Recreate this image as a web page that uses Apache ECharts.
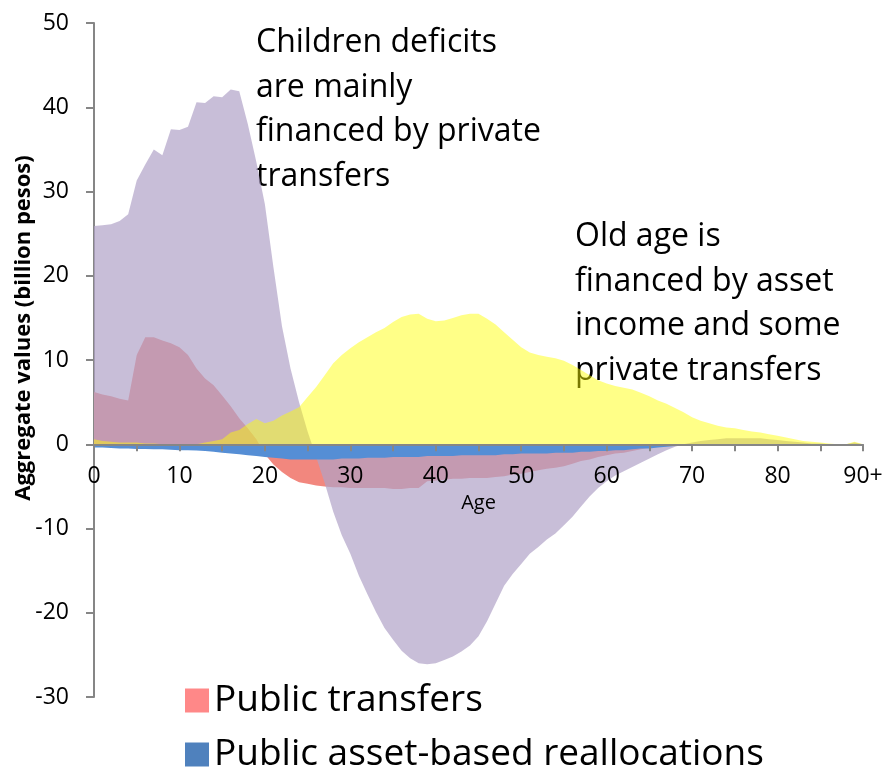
<!DOCTYPE html>
<html>
<head>
<meta charset="utf-8">
<script src="https://cdn.jsdelivr.net/npm/echarts@6/dist/echarts.min.js"></script>
<style>
  body { margin: 0; background: #fff; }
  #chart { width: 887px; height: 767px; }
</style>
</head>
<body>
<div id="chart"></div>
<script>
// age groups 0 .. 90+
var ages = ['0','1','2','3','4','5','6','7','8','9',
  '10','11','12','13','14','15','16','17','18','19',
  '20','21','22','23','24','25','26','27','28','29',
  '30','31','32','33','34','35','36','37','38','39',
  '40','41','42','43','44','45','46','47','48','49',
  '50','51','52','53','54','55','56','57','58','59',
  '60','61','62','63','64','65','66','67','68','69',
  '70','71','72','73','74','75','76','77','78','79',
  '80','81','82','83','84','85','86','87','88','89','90+'];

// billion pesos
var publicTransfers = [6.2, 5.9, 5.7, 5.4, 5.2, 10.6, 12.7, 12.7, 12.3, 12.0,
  11.5, 10.6, 9.0, 7.8, 7.0, 5.8, 4.5, 3.1, 1.9, 0.6,
  -1.2, -2.4, -3.3, -4.0, -4.5, -4.7, -4.9, -5.0, -5.1, -5.1,
  -5.2, -5.2, -5.2, -5.2, -5.2, -5.3, -5.3, -5.2, -5.2, -4.4,
  -4.3, -4.2, -4.1, -4.1, -4.0, -4.0, -4.0, -3.9, -3.8, -3.6,
  -3.5, -3.3, -3.1, -2.9, -2.8, -2.6, -2.3, -2.0, -1.8, -1.5,
  -1.3, -1.1, -1.0, -0.8, -0.6, -0.4, -0.2, 0, 0, 0,
  0, 0, 0, 0, 0, 0, 0, 0, 0, 0,
  0, 0, 0, 0, 0, 0, 0, 0, 0, 0, 0];

var privateTransfers = [25.9, 26.0, 26.1, 26.5, 27.3, 31.3, 33.2, 35.0, 34.3, 37.4,
  37.3, 37.7, 40.6, 40.5, 41.3, 41.2, 42.1, 41.9, 38.0, 33.5,
  28.5, 21.0, 14.0, 9.0, 5.0, 1.5, -1.5, -4.6, -8.0, -10.8,
  -13.0, -15.6, -17.8, -19.9, -21.8, -23.2, -24.5, -25.4, -26.0, -26.1,
  -26.0, -25.6, -25.2, -24.6, -23.9, -22.8, -21.0, -18.9, -16.8, -15.4,
  -14.2, -13.0, -12.2, -11.3, -10.6, -9.6, -8.6, -7.4, -6.2, -5.2,
  -4.4, -3.7, -3.2, -2.7, -2.2, -1.7, -1.2, -0.7, -0.3, 0,
  0.2, 0.4, 0.5, 0.6, 0.7, 0.7, 0.7, 0.7, 0.7, 0.6,
  0.5, 0.4, 0.3, 0.2, 0.1, 0.1, 0, 0, 0, 0.2, 0];

var assetIncome = [0.6, 0.4, 0.3, 0.2, 0.2, 0.2, 0.1, 0.1, 0.0, -0.1,
  0.0, 0.0, 0.0, 0.2, 0.4, 0.6, 1.4, 1.7, 2.4, 3.0,
  2.5, 2.8, 3.4, 3.9, 4.4, 5.6, 6.8, 8.2, 9.6, 10.6,
  11.4, 12.1, 12.7, 13.3, 13.8, 14.5, 15.1, 15.4, 15.5, 14.9,
  14.6, 14.7, 15.0, 15.3, 15.5, 15.5, 14.9, 14.2, 13.3, 12.4,
  11.5, 10.9, 10.6, 10.4, 10.2, 9.9, 9.4, 8.8, 8.2, 7.6,
  7.2, 6.9, 6.7, 6.5, 6.1, 5.7, 5.2, 4.8, 4.3, 3.8,
  3.2, 2.8, 2.5, 2.2, 2.0, 1.9, 1.7, 1.5, 1.4, 1.2,
  1.0, 0.8, 0.6, 0.4, 0.3, 0.2, 0.1, 0, 0, 0.3, 0];

var publicAssetRealloc = [-0.4, -0.4, -0.45, -0.5, -0.5, -0.55, -0.55, -0.6, -0.6, -0.65,
  -0.7, -0.7, -0.75, -0.8, -0.9, -1.0, -1.1, -1.2, -1.3, -1.4,
  -1.5, -1.6, -1.7, -1.8, -1.8, -1.8, -1.8, -1.8, -1.8, -1.7,
  -1.7, -1.7, -1.6, -1.6, -1.6, -1.5, -1.5, -1.5, -1.5, -1.4,
  -1.4, -1.4, -1.4, -1.3, -1.3, -1.3, -1.3, -1.3, -1.2, -1.2,
  -1.1, -1.1, -1.1, -1.1, -1.0, -1.0, -1.0, -0.9, -0.9, -0.8,
  -0.8, -0.7, -0.7, -0.6, -0.5, -0.5, -0.4, -0.3, -0.2, -0.1,
  0, 0, 0, 0, 0, 0, 0, 0, 0, 0,
  0, 0, 0, 0, 0, 0, 0, 0, 0, 0, 0];

var yMin = -30, yMax = 50;
var font = '"Open Sans", Lato, sans-serif';
var axisGrey = '#868686';

// plot area
var gridTop = 23, gridBottom = 70, chartHeight = 767;
var plotHeight = chartHeight - gridTop - gridBottom;
// lift the category axis (with its labels) up to the zero line
var zeroOffset = -plotHeight * (0 - yMin) / (yMax - yMin);

function area(name, data, legendColor, fill) {
    return {
        name: name,
        type: 'line',
        data: data,
        showSymbol: false,
        symbol: 'none',
        silent: true,
        lineStyle: {width: 0},
        itemStyle: {color: legendColor},
        areaStyle: {color: fill, opacity: 1}
    };
}

function legendItem(name, top) {
    return {
        orient: 'vertical',
        left: 180,
        top: top,
        itemWidth: 24,
        itemHeight: 24,
        icon: 'rect',
        data: [name],
        textStyle: {fontFamily: font, fontSize: 37, color: '#000'}
    };
}

var chart = echarts.init(document.getElementById('chart'));
chart.setOption({
    animation: false,
    grid: {left: 94, right: 24, top: gridTop, bottom: gridBottom},
    legend: [
        legendItem('Public transfers', 677),
        legendItem('Public asset-based reallocations', 731)
    ],
    xAxis: {
        type: 'category',
        data: ages,
        boundaryGap: false,
        offset: zeroOffset,
        z: 5,
        name: 'Age',
        nameLocation: 'middle',
        nameGap: 46,
        nameTextStyle: {fontFamily: font, fontSize: 20, color: '#000'},
        axisLine: {onZero: false, lineStyle: {color: axisGrey, width: 2}},
        axisTick: {
            length: 7,
            lineStyle: {color: axisGrey, width: 2},
            interval: function (i) { return i % 5 === 0; }
        },
        axisLabel: {
            interval: function (i) { return i % 10 === 0; },
            margin: 21,
            fontFamily: font,
            fontSize: 23,
            color: '#000'
        },
        splitLine: {show: false}
    },
    yAxis: {
        type: 'value',
        min: yMin,
        max: yMax,
        interval: 10,
        axisLine: {show: true, onZero: false, lineStyle: {color: axisGrey, width: 2}},
        axisTick: {show: true, length: 8, lineStyle: {color: axisGrey, width: 2}},
        axisLabel: {margin: 25, fontFamily: font, fontSize: 23, color: '#000'},
        splitLine: {show: false}
    },
    graphic: [
        {
            type: 'text',
            x: 24,
            y: 328,
            rotation: Math.PI / 2,
            style: {
                text: 'Aggregate values (billion pesos)',
                fontFamily: font,
                fontSize: 22,
                fontWeight: 'bold',
                fill: '#000',
                align: 'center',
                verticalAlign: 'middle'
            }
        },
        {
            type: 'text',
            left: 256,
            top: 21,
            style: {
                text: 'Children deficits\nare mainly\nfinanced by private\ntransfers',
                fontFamily: font,
                fontSize: 32,
                lineHeight: 44.5,
                fill: '#000'
            }
        },
        {
            type: 'text',
            left: 575,
            top: 215,
            style: {
                text: 'Old age is\nfinanced by asset\nincome and some\nprivate transfers',
                fontFamily: font,
                fontSize: 32,
                lineHeight: 44.5,
                fill: '#000'
            }
        }
    ],
    series: [
        area('Public transfers', publicTransfers, '#FF8888', '#F2877E'),
        area('Private transfers', privateTransfers, '#B0A2C8', 'rgba(176,162,200,0.7)'),
        area('Asset income', assetIncome, '#FFFF00', 'rgba(255,255,0,0.47)'),
        area('Public asset-based reallocations', publicAssetRealloc, '#4F81BD', '#558ED5')
    ]
});
</script>
</body>
</html>
